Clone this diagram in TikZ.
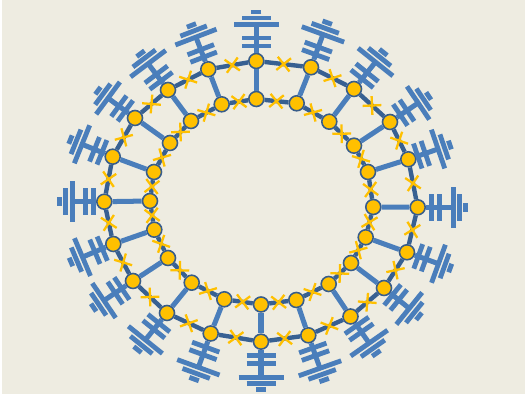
\documentclass[tikz,border=0pt]{standalone}
\usepackage{tikz}
\usetikzlibrary{shapes,positioning,calc}

\definecolor{paper}{HTML}{EEECE1}
\definecolor{ringblue}{HTML}{376092}
\definecolor{spokeblue}{HTML}{4A7EBB}
\definecolor{junctionyellow}{HTML}{FFC000}
\definecolor{junctionedge}{HTML}{385D8A}

\tikzset{
    junction/.style={draw=junctionedge, fill=junctionyellow, circle, line width=0.9pt, minimum size=0.3cm, inner sep=0pt},
    ringline/.style={draw=ringblue, line width=2.5pt},
    spoke/.style={draw=spokeblue, line width=2.85pt},
    plate/.style={draw=spokeblue, line width=2.75pt},
    crossmark/.style={cross out, draw=junctionyellow, line width=1.3pt, minimum size=0.22cm, inner sep=0pt, sloped}
}

\begin{document}
\begin{tikzpicture}[x=0.02cm,y=-0.02cm]
    \fill[white] (0,0) rectangle (525,394);
    \fill[paper] (2,0) rectangle (525,394);
    \useasboundingbox (0,0) rectangle (525,394);

    \foreach \i/\x/\y in {1/256.3/61,2/311/67.3,3/354/89,4/390/122,5/408.3/159.3,6/417.7/207.3,7/407/252.3,8/384/288,9/350.5/316.5,10/308.3/335.3,11/261/341.7,12/210.7/333.5,13/167/313,14/133/281,15/113.3/244,16/104.3/201.7,17/112.7/156.7,18/135/118,19/168/90,20/208.3/69.3}
        \node[junction] (outer\i) at (\x,\y) {};

    \foreach \i/\x/\y in {1/256.3/99,2/296.7/103.3,3/329.3/121.7,4/354/145.7,5/368/172,6/373.3/207,7/365.7/237.3,8/351/263,9/328.7/284,10/296.3/300,11/261/304.5,12/224.3/299.3,13/191.7/282.7,14/168/258,15/154.3/229.7,16/150/201,17/154/172,18/170/143,19/191/121,20/221.7/104.3}
        \node[junction] (inner\i) at (\x,\y) {};

    \foreach \i/\bearing/\gap/\wide in {1/0/15/45,2/20/13.5/45,3/38.6/13/44.5,4/56/12.5/40,5/71/10/41,6/90/14/41,7/110/12/40.5,8/129/11/41,9/145/11/45,10/160.5/13.5/45,11/180/14/45,12/200/14.5/45,13/218.8/13/43.6,14/236/13.5/41.8,15/247/12/41,16/270/10.5/41,17/292/11.6/41,18/306.4/12/40,19/323/11.5/44,20/339/13/44} {
        \pgfmathtruncatemacro{\next}{mod(\i,20)+1}
        \pgfmathsetmacro{\ang}{90-\bearing}
        \draw[spoke] (outer\i) -- (inner\i);
        \draw[ringline] (outer\i) -- node[crossmark] {} (outer\next);
        \draw[ringline] (inner\i) -- node[crossmark] {} (inner\next);
        \begin{scope}[shift={(outer\i)},rotate=\ang,x=0.02cm,y=0.02cm,yscale=\wide/45]
            \coordinate (stem\i) at (\gap+21.5,0);
            \draw[spoke] (outer\i) -- (stem\i);
            \draw[plate] (\gap,-14.5) -- (\gap,14.5);
            \draw[plate] (\gap+8,-14.5) -- (\gap+8,14.5);
            \draw[plate] (\gap+21.5,-22.5) -- (\gap+21.5,22.5);
            \draw[plate] (\gap+28,-14.5) -- (\gap+28,14.5);
            \draw[plate] (\gap+34,-5) -- (\gap+34,5);
        \end{scope}
    }
\end{tikzpicture}
\end{document}
